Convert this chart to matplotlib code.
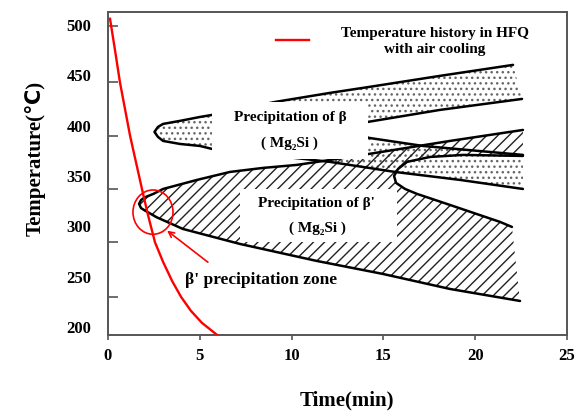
import matplotlib
matplotlib.use("Agg")
import numpy as np
import matplotlib.pyplot as plt
from matplotlib.patches import Polygon, Rectangle, Ellipse

plt.rcParams['font.family'] = ['Liberation Serif', 'DejaVu Serif']
plt.rcParams['font.weight'] = 'bold'
plt.rcParams['axes.labelweight'] = 'bold'
plt.rcParams['hatch.linewidth'] = 1.0

# cooling history (time in min, temperature in C)
cool_t = [0.11, 0.38, 0.65, 1.20, 1.85, 2.18, 2.56, 3.00, 3.49, 3.98, 4.52, 5.12, 5.94]
cool_T = [505, 474, 442, 389, 336, 310, 283, 263.6, 244.7, 228.8, 214.9, 203.0, 191.1]

# beta start curve: upper branch -> nose -> lower branch
b_start_t = [22.06, 18.08, 14.22, 12.09, 9.10, 5.66, 5.01, 3.92, 3.00, 2.72, 2.53,
             2.72, 3.00, 3.92, 5.01, 5.66, 9.20, 12.09, 15.63, 19.17, 22.60]
b_start_T = [459.2, 448.3, 437.3, 431.4, 422.4, 409.5, 407.5, 403.6, 400.6, 397.6, 392.6,
             387.7, 383.7, 380.7, 378.7, 375.8, 368.8, 362.9, 352.9, 345.0, 336.0]

# beta finish curve
b_end_t = [22.55, 18.08, 14.16, 13.40, 13.18, 13.40, 14.22, 17.16, 22.60]
b_end_T = [425.4, 414.5, 402.6, 397.0, 394.6, 392.0, 386.7, 378.7, 369.8]

# beta' start curve
bp_start_t = [22.60, 18.63, 14.22, 12.09, 10.29, 8.44, 6.64, 4.85, 3.00, 2.47, 2.02, 1.80, 1.69,
              1.80, 2.02, 2.65, 4.08, 7.19, 11.38, 14.98, 18.63, 22.44]
bp_start_T = [394.6, 383.7, 370.8, 364.8, 359.9, 356.9, 352.9, 345.0, 336.0, 331.1, 327.8, 325.0, 321.2,
              317.0, 314.5, 307.9, 296.3, 281.4, 264.5, 251.6, 236.7, 224.8]

# beta' finish curve
bp_end_t = [22.60, 19.34, 17.54, 16.29, 15.80, 15.58, 15.69, 16.18, 16.83, 18.63, 21.35, 22.00]
bp_end_T = [368.8, 369.8, 367.8, 362.9, 355.9, 348.9, 342.0, 336.0, 331.1, 320.1, 303.3, 298.3]

y_tick_marks = [228.8, 283.4, 336.0, 388.7, 442.3, 498.2]

fig = plt.figure(figsize=(5.76, 4.14), dpi=100)
ax = fig.add_axes([0.1875, 0.1884, 0.7969, 0.7809])

# dotted beta region and hatched beta' region
b_poly = np.column_stack([b_start_t + b_end_t[::-1], b_start_T + b_end_T[::-1]])
ax.add_patch(Polygon(b_poly, closed=True, facecolor='none', edgecolor='#666666',
                     lw=0, hatch='...', zorder=1))
bp_poly = np.column_stack([bp_start_t + bp_end_t[::-1], bp_start_T + bp_end_T[::-1]])
ax.add_patch(Polygon(bp_poly, closed=True, facecolor='none', edgecolor='#222222',
                     lw=0, hatch='///', zorder=1.5))

for tt, TT in [(b_start_t, b_start_T), (b_end_t, b_end_T),
               (bp_start_t, bp_start_T), (bp_end_t, bp_end_T)]:
    ax.plot(tt, TT, color='black', lw=1.8, zorder=3, solid_capstyle='round')

# white label boxes
ax.add_patch(Rectangle((5.66, 365.8), 8.5, 56.6, facecolor='white', edgecolor='none', zorder=4))
ax.add_patch(Rectangle((7.19, 283.0), 8.55, 53.0, facecolor='white', edgecolor='none', zorder=4))

ax.text(9.91, 407.5, "Precipitation of β", ha='center', va='center', fontsize=11, zorder=5)
ax.text(9.86, 382.7, "( Mg₂Si )", ha='center', va='center', fontsize=11, zorder=5)
ax.text(11.33, 322.1, "Precipitation of β'", ha='center', va='center', fontsize=11, zorder=5)
ax.text(11.38, 298.3, "( Mg₂Si )", ha='center', va='center', fontsize=11, zorder=5)
ax.text(8.33, 246.7, "β' precipitation zone", ha='center', va='center', fontsize=12.5, zorder=5)

line, = ax.plot(cool_t, cool_T, color='red', lw=1.7, zorder=6,
                label="Temperature history in HFQ\nwith air cooling")
ax.add_patch(Ellipse((2.45, 313.0), 2.18, 44.0, facecolor='none', edgecolor='red', lw=1.2, zorder=6))
ax.annotate('', xy=(3.10, 296.3), xytext=(5.56, 261.6),
            arrowprops=dict(arrowstyle='->', color='red', lw=1.2), zorder=6)

leg = ax.legend(handles=[line], loc='center', bbox_to_anchor=(0.6416, 0.912), frameon=False,
                fontsize=11, handlelength=2.1, handletextpad=2.1)
for t in leg.get_texts():
    t.set_multialignment('center')
    t.set_linespacing(1.3)

ax.set_xlim(0, 25)
ax.set_ylim(191, 512)
ax.set_xticks([0, 5, 10, 15, 20, 25])
ax.set_yticks([200, 250, 300, 350, 400, 450, 500])
ax.set_yticks(y_tick_marks, minor=True)
ax.tick_params(axis='x', direction='out', length=3.6, width=1.2, pad=5, labelsize=12, color='#555555')
ax.tick_params(axis='y', which='major', length=0, pad=12, labelsize=12)
ax.tick_params(axis='y', which='minor', direction='in', length=7, width=1.2, color='#555555')
for s in ax.spines.values():
    s.set_color('#555555')
    s.set_linewidth(1.4)

ax.set_xlabel("Time(min)", fontsize=15, fontweight='bold')
ax.xaxis.set_label_coords(0.521, -0.17)
ax.set_ylabel("Temperature(℃)", fontsize=15, fontweight='bold',
              family=['Liberation Serif', 'DejaVu Sans'])
ax.yaxis.set_label_coords(-0.135, 0.55)

fig.savefig("out.png", dpi=100)
